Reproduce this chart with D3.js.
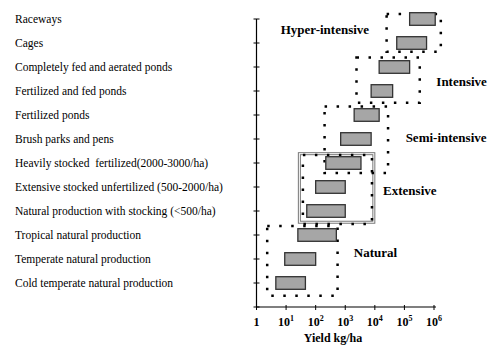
<!DOCTYPE html>
<html>
<head>
<meta charset="utf-8">
<script src="https://cdn.jsdelivr.net/npm/d3@7"></script>
<style>
body { margin: 0; background: #fff; }
svg { display: block; font-family: "Liberation Serif", "Times New Roman", serif; }
</style>
</head>
<body>
<svg width="500" height="353"></svg>
<script>
// production systems, top to bottom
var systems = ["Raceways", "Cages", "Completely fed and aerated ponds", "Fertilized and fed ponds",
  "Fertilized ponds", "Brush parks and pens", "Heavily stocked  fertilized(2000-3000/ha)",
  "Extensive stocked unfertilized (500-2000/ha)", "Natural production with stocking (<500/ha)",
  "Tropical natural production", "Temperate natural production", "Cold temperate natural production"];
// yield range kg/ha
var yieldLow = [150000, 55000, 14000, 7500, 2000, 700, 220, 100, 50, 25, 9, 4.5];
var yieldHigh = [1100000, 560000, 150000, 40000, 14000, 7500, 3400, 1000, 1000, 500, 100, 45];

// groups: yield range and row range
var groupNames = ["Hyper-intensive", "Intensive", "Semi-intensive", "Extensive", "Natural"];
var groupX0 = [25000, 2400, 200, 37, 2.3];
var groupX1 = [1700000, 330000, 28000, 8000, 550];
var groupRow0 = [-0.21, 1.6, 3.65, 5.67, 8.62];
var groupRow1 = [1.36, 3.49, 6.42, 8.54, 11.53];
var labelYield = [6.6, 1200000, 110000, 19000, 1950];
var labelRow = [0.43, 2.61, 4.95, 7.15, 9.74];

var xTicks = [1, 10, 100, 1000, 10000, 100000, 1000000];

var svg = d3.select("svg");
var x = d3.scaleLog().domain([1, 1000000]).range([256.5, 434]);
var y = d3.scaleLinear().domain([0, 12]).range([19, 307]);

// row labels
svg.selectAll(".rowlab").data(systems).enter().append("text")
  .attr("class", "rowlab")
  .attr("x", 15)
  .attr("y", function(d, i) { return y(i) + 4; })
  .style("font-size", "11.5px")
  .style("white-space", "pre")
  .attr("xml:space", "preserve")
  .text(function(d) { return d; });

// axes
svg.append("line").attr("x1", x(1)).attr("x2", x(1)).attr("y1", y(0)).attr("y2", y(12))
  .style("stroke", "#000").style("stroke-width", 1.2);
svg.append("line").attr("x1", x(1)).attr("x2", x(1000000) + 2).attr("y1", y(12)).attr("y2", y(12))
  .style("stroke", "#000").style("stroke-width", 1.2);
d3.range(0, 13).forEach(function(i) {
  svg.append("line").attr("x1", x(1) - 3).attr("x2", x(1) + 3).attr("y1", y(i)).attr("y2", y(i))
    .style("stroke", "#000").style("stroke-width", 1);
});
xTicks.forEach(function(t) {
  svg.append("line").attr("x1", x(t)).attr("x2", x(t)).attr("y1", y(12) - 2).attr("y2", y(12) + 3)
    .style("stroke", "#000").style("stroke-width", 1);
  var tx = svg.append("text")
    .attr("x", x(t))
    .attr("y", 326)
    .attr("text-anchor", "middle")
    .style("font-size", "12px")
    .style("font-weight", "bold");
  var p = Math.round(Math.log10(t));
  if (p === 0) {
    tx.text("1");
  } else {
    tx.append("tspan").text("10");
    tx.append("tspan").attr("dy", -5).style("font-size", "8px").text(p);
  }
});
svg.append("text").attr("x", 333).attr("y", 342).attr("text-anchor", "middle")
  .style("font-size", "12px").style("font-weight", "bold").text("Yield kg/ha");

// extensive: double solid frame
[0, 2].forEach(function(o) {
  svg.append("rect")
    .attr("x", x(26) + o).attr("y", y(5.57) + o)
    .attr("width", x(10000) - x(26) - 2 * o)
    .attr("height", y(8.51) - y(5.57) - 2 * o)
    .style("fill", "none").style("stroke", "#777").style("stroke-width", 1);
});

// dotted group boxes
svg.selectAll(".grp").data(groupNames).enter().append("rect")
  .attr("class", "grp")
  .attr("x", function(d, i) { return x(groupX0[i]); })
  .attr("y", function(d, i) { return y(groupRow0[i]); })
  .attr("width", function(d, i) { return x(groupX1[i]) - x(groupX0[i]); })
  .attr("height", function(d, i) { return y(groupRow1[i]) - y(groupRow0[i]); })
  .style("fill", "none").style("stroke", "#000").style("stroke-width", 2.5)
  .style("stroke-dasharray", "2.5,9.5");

// bars
svg.selectAll(".bar").data(systems).enter().append("rect")
  .attr("class", "bar")
  .attr("x", function(d, i) { return x(yieldLow[i]); })
  .attr("y", function(d, i) { return y(i) - 6.3; })
  .attr("width", function(d, i) { return x(yieldHigh[i]) - x(yieldLow[i]); })
  .attr("height", 12.6)
  .style("fill", "#a6a6a6").style("stroke", "#333").style("stroke-width", 1.3);

// group labels
svg.selectAll(".glab").data(groupNames).enter().append("text")
  .attr("class", "glab")
  .attr("x", function(d, i) { return x(labelYield[i]); })
  .attr("y", function(d, i) { return y(labelRow[i]) + 4.5; })
  .style("font-size", "13px").style("font-weight", "bold")
  .text(function(d) { return d; });
</script>
</body>
</html>
